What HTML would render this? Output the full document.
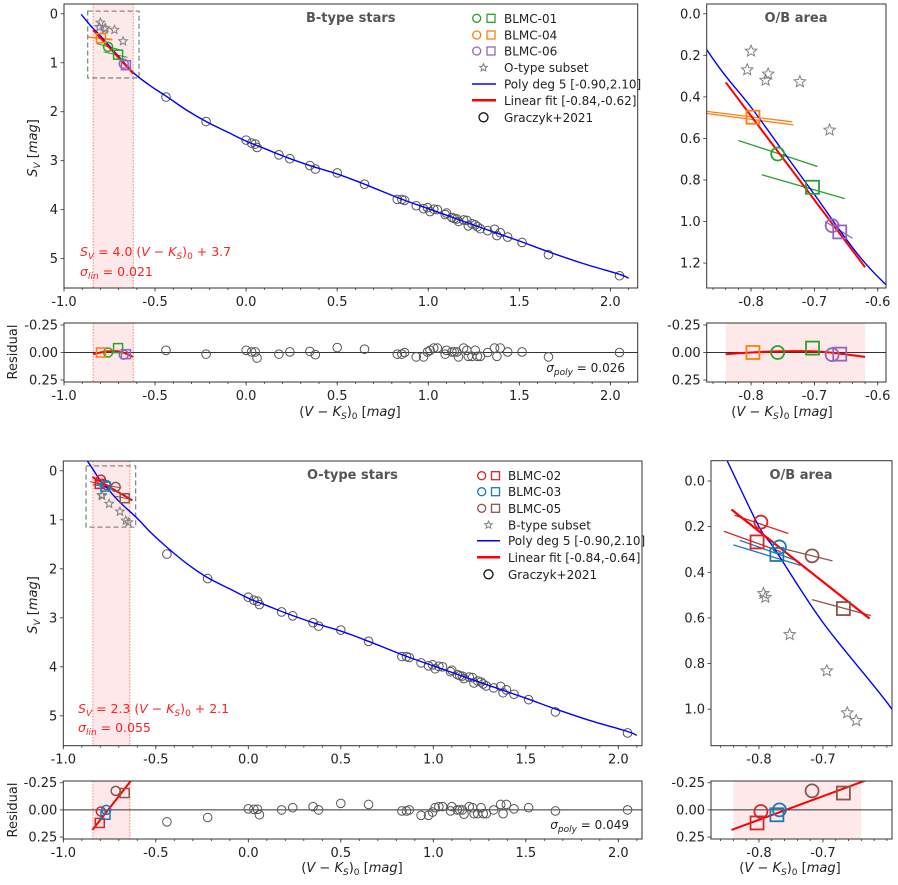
<!DOCTYPE html>
<html><head><meta charset="utf-8">
<style>
html,body{margin:0;padding:0;background:#fff;overflow:hidden;}
svg{display:block;font-family:"DejaVu Sans","Liberation Sans",sans-serif;}
</style></head>
<body>
<svg id="fig" width="898" height="885" viewBox="0 0 898 885" xmlns="http://www.w3.org/2000/svg"></svg>
<script>
// ---------------- DATA ----------------
const gX = [-0.44,-0.22,0.0,0.03,0.05,0.06,0.18,0.24,0.35,0.38,0.50,0.65,0.83,0.855,0.87,0.934,0.974,0.996,1.01,1.03,1.05,1.093,1.10,1.13,1.143,1.157,1.166,1.194,1.212,1.22,1.24,1.258,1.27,1.286,1.326,1.364,1.377,1.395,1.436,1.515,1.66,2.05];
const gS = [1.70,2.20,2.58,2.64,2.66,2.73,2.88,2.96,3.10,3.17,3.25,3.48,3.79,3.79,3.81,3.92,3.98,3.96,4.04,3.99,4.00,4.10,4.07,4.16,4.18,4.19,4.24,4.21,4.22,4.33,4.29,4.31,4.35,4.39,4.43,4.40,4.53,4.47,4.56,4.67,4.92,5.35];
const gResTop = [-0.02,0.015,-0.02,-0.005,-0.005,0.05,0.015,-0.005,-0.01,0.02,-0.045,-0.03,0.015,0.015,0.0,0.04,0.04,-0.005,-0.02,-0.04,-0.04,0.015,-0.02,-0.005,-0.005,-0.005,0.04,-0.04,-0.02,0.035,0.035,-0.02,0.035,0.035,0.0,-0.04,0.035,-0.04,-0.005,-0.005,0.04,0.0];
const gResBot = [0.11,0.07,-0.01,-0.005,-0.005,0.045,0.0,-0.02,-0.03,0.0,-0.06,-0.05,0.01,0.01,0.0,0.05,0.05,0.02,-0.02,-0.03,-0.03,0.01,-0.03,0.0,0.0,0.0,0.04,-0.03,-0.02,0.035,0.035,-0.02,0.035,0.035,0.0,-0.05,0.035,-0.05,-0.01,-0.02,0.01,0.0];
const polyXB = [-0.906,-0.85,-0.8,-0.75,-0.7,-0.62,-0.53,-0.44,-0.33,-0.22,-0.1,0.0,0.1,0.2,0.35,0.5,0.65,0.85,1.0,1.15,1.3,1.5,1.66,1.85,2.05,2.1];
const polyYB = [0.01,0.26,0.45,0.66,0.87,1.2,1.46,1.68,1.96,2.2,2.42,2.6,2.75,2.9,3.1,3.27,3.48,3.78,3.98,4.18,4.38,4.64,4.86,5.1,5.32,5.40];
const polyXO = [-0.87,-0.85,-0.8,-0.775,-0.7,-0.6,-0.53,-0.44,-0.33,-0.22,-0.1,0.0,0.1,0.2,0.35,0.5,0.65,0.85,1.0,1.15,1.3,1.5,1.66,1.85,2.05,2.1];
const polyYO = [-0.2,-0.09,0.2,0.30,0.62,0.97,1.25,1.56,1.90,2.18,2.41,2.6,2.75,2.9,3.1,3.27,3.48,3.78,3.98,4.18,4.38,4.64,4.86,5.1,5.32,5.40];
const linBX = [-0.84,-0.62]; const linBY = [0.33,1.22];
const linOX = [-0.843,-0.627]; const linOY = [0.125,0.603];
const bNames = ["BLMC-01","BLMC-04","BLMC-06"];
const bColors = ["#2ca02c","#ff7f0e","#9467bd"];
const bCircX = [-0.758,null,-0.672]; const bCircY = [0.675,null,1.02];
const bSqX = [-0.703,-0.797,-0.660]; const bSqY = [0.835,0.498,1.05];
const bCircRes = [0.0,null,0.02]; const bSqRes = [-0.04,0.0,0.015];
const bSegX1 = [-0.82,-0.783,-0.87,-0.87,-0.683]; const bSegY1 = [0.61,0.775,0.47,0.48,1.00];
const bSegX2 = [-0.695,-0.652,-0.735,-0.733,-0.640]; const bSegY2 = [0.735,0.89,0.52,0.535,1.08];
const bSegC = [0,0,1,1,2];
const oNames = ["BLMC-02","BLMC-03","BLMC-05"];
const oColors = ["#d62728","#1f77b4","#8c564b"];
const oCircX = [-0.797,-0.768,-0.717]; const oCircY = [0.18,0.289,0.328];
const oSqX = [-0.803,-0.772,-0.668]; const oSqY = [0.267,0.322,0.559];
const oCircRes = [0.015,0.0,-0.175]; const oSqRes = [0.12,0.045,-0.155];
const oSegX1 = [-0.838,-0.855,-0.83,-0.84,-0.772,-0.717]; const oSegY1 = [0.15,0.22,0.26,0.28,0.29,0.52];
const oSegX2 = [-0.754,-0.766,-0.74,-0.735,-0.685,-0.625]; const oSegY2 = [0.23,0.31,0.35,0.37,0.35,0.59];
const oSegC = [0,0,1,1,2,2];
const oStarX = [-0.800,-0.806,-0.773,-0.777,-0.723,-0.676]; const oStarY = [0.18,0.27,0.29,0.32,0.327,0.56];
const bStarX = [-0.793,-0.790,-0.752,-0.694,-0.662,-0.648]; const bStarY = [0.493,0.51,0.673,0.832,1.016,1.05];
const resBX = [-0.84,-0.80,-0.76,-0.70,-0.66,-0.62]; const resBY = [0.015,0.0,-0.01,-0.01,0.01,0.04];
const resOX = [-0.843,-0.62]; const resOY = [0.185,-0.30];
const mainXTicks = [-1.0,-0.5,0.0,0.5,1.0,1.5,2.0];
const mainYTicks = [0,1,2,3,4,5];
const resYTicks = [-0.25,0.0,0.25];
const zoomBYTicks = [0.0,0.2,0.4,0.6,0.8,1.0,1.2];
const zoomOYTicks = [0.0,0.2,0.4,0.6,0.8,1.0];
const zoomBXTicks = [-0.8,-0.7,-0.6];
const zoomOXTicks = [-0.8,-0.7];

// ---------------- HELPERS ----------------
const NS = "http://www.w3.org/2000/svg";
const svg = document.getElementById('fig');
let clipId = 0;
function mk(tag, attrs, parent, name, inter){
  const e = document.createElementNS(NS, tag);
  for (const k in attrs) e.setAttribute(k, attrs[k]);
  
  
  (parent || svg).appendChild(e);
  return e;
}
function scale(d0,d1,r0,r1){ return v => r0 + (v-d0)/(d1-d0)*(r1-r0); }
function fmt(v, dec){ return v.toFixed(dec); }

function panel(o){
  const g = mk('g', {}, svg, o.name, false);
  const sx = scale(o.xd[0], o.xd[1], o.x0, o.x1);
  const sy = scale(o.yd[0], o.yd[1], o.y0, o.y1);
  const cid = 'c' + (clipId++);
  const cp = mk('clipPath', {id: cid}, g, o.name + '-clip', false);
  mk('rect', {x:o.x0, y:o.y0, width:o.x1-o.x0, height:o.y1-o.y0}, cp, 'clip-rect', false);
  const plot = mk('g', {'clip-path':'url(#'+cid+')'}, g, o.name + '-plot-area', false);
  const ax = mk('g', {}, g, o.name + '-x-axis', false);
  const mstep = o.minor;
  for (let v = Math.ceil(o.xd[0]/mstep)*mstep; v <= o.xd[1]+1e-9; v += mstep){
    const px = sx(v);
    mk('line', {x1:px, x2:px, y1:o.y1, y2:o.y1+2, stroke:'#333', 'stroke-width':0.8}, ax, 'x-minor-tick', false);
  }
  o.xt.forEach(v => {
    const px = sx(v);
    mk('line', {x1:px, x2:px, y1:o.y1, y2:o.y1+3.5, stroke:'#333', 'stroke-width':0.8}, ax, 'x-major-tick', false);
    const t = mk('text', {x:px, y:o.y1+18, 'text-anchor':'middle', 'font-size':13, fill:'#222'}, ax, 'x-tick-label', false);
    t.textContent = fmt(v, o.xdec);
  });
  const ay = mk('g', {}, g, o.name + '-y-axis', false);
  o.yt.forEach(v => {
    const py = sy(v);
    mk('line', {x1:o.x0-3.5, x2:o.x0, y1:py, y2:py, stroke:'#333', 'stroke-width':0.8}, ay, 'y-major-tick', false);
    const t = mk('text', {x:o.x0-6, y:py+4.5, 'text-anchor':'end', 'font-size':13, fill:'#222'}, ay, 'y-tick-label', false);
    t.textContent = fmt(v, o.ydec);
  });
  return {g, plot, sx, sy, o};
}
function frame(p){
  const o = p.o;
  mk('rect', {x:o.x0, y:o.y0, width:o.x1-o.x0, height:o.y1-o.y0, fill:'none', stroke:'#333', 'stroke-width':1}, p.g, 'axes-frame', false);
}
function band(p, a, b, dotted){
  mk('rect', {x:p.sx(a), y:p.o.y0, width:p.sx(b)-p.sx(a), height:p.o.y1-p.o.y0, fill:'#fde9e9'}, p.plot, 'fit-range-band', false);
  if (dotted){
    [a,b].forEach(v => {
      mk('line', {x1:p.sx(v), x2:p.sx(v), y1:p.o.y0, y2:p.o.y1, stroke:'#ff6060', 'stroke-width':0.8, 'stroke-dasharray':'1.5,1.5'}, p.plot, 'fit-range-edge', false);
    });
  }
}
function polyline(p, xs, ys, color, w, name){
  const pts = xs.map((x,i)=> p.sx(x).toFixed(2)+','+p.sy(ys[i]).toFixed(2)).join(' ');
  return mk('polyline', {points:pts, fill:'none', stroke:color, 'stroke-width':w, 'stroke-linejoin':'round'}, p.plot, name, false);
}
function smooth(p, xs, ys, color, w, name){
  const P = xs.map((x,i)=>[p.sx(x), p.sy(ys[i])]);
  let d = 'M'+P[0][0]+','+P[0][1];
  for (let i=0;i<P.length-1;i++){
    const p0 = P[Math.max(0,i-1)], p1=P[i], p2=P[i+1], p3=P[Math.min(P.length-1,i+2)];
    const c1 = [p1[0]+(p2[0]-p0[0])/6, p1[1]+(p2[1]-p0[1])/6];
    const c2 = [p2[0]-(p3[0]-p1[0])/6, p2[1]-(p3[1]-p1[1])/6];
    d += ' C'+c1.join(',')+' '+c2.join(',')+' '+p2.join(',');
  }
  return mk('path', {d, fill:'none', stroke:color, 'stroke-width':w}, p.plot, name, false);
}
function circle(p, x, y, r, color, w, name){
  return mk('circle', {cx:p.sx(x), cy:p.sy(y), r, fill:'none', stroke:color, 'stroke-width':w}, p.plot, name, false);
}
function square(p, x, y, s, color, w, name){
  return mk('rect', {x:p.sx(x)-s/2, y:p.sy(y)-s/2, width:s, height:s, fill:'none', stroke:color, 'stroke-width':w}, p.plot, name, false);
}
function starPath(cx, cy, R){
  const r = R*0.45; let d='';
  for (let i=0;i<10;i++){
    const a = -Math.PI/2 + i*Math.PI/5, rr = i%2?r:R;
    d += (i?'L':'M') + (cx+rr*Math.cos(a)).toFixed(2)+','+(cy+rr*Math.sin(a)).toFixed(2);
  }
  return d+'Z';
}
function star(p, x, y, R, name){
  return mk('path', {d:starPath(p.sx(x), p.sy(y), R), fill:'none', stroke:'#808080', 'stroke-width':1}, p.plot, name, false);
}
function zeroLine(p){
  mk('line', {x1:p.o.x0, x2:p.o.x1, y1:p.sy(0), y2:p.sy(0), stroke:'#333', 'stroke-width':1}, p.plot, 'zero-line', false);
}
function text(x, y, str, attrs, name, parent){
  const t = mk('text', Object.assign({x, y, fill:'#222', 'font-size':13}, attrs||{}), parent||svg, name, false);
  t.innerHTML = str;
  return t;
}
function segs(p, X1,Y1,X2,Y2,C,colors,w){
  X1.forEach((x,i)=>{
    mk('line', {x1:p.sx(x), y1:p.sy(Y1[i]), x2:p.sx(X2[i]), y2:p.sy(Y2[i]), stroke:colors[C[i]], 'stroke-width':w}, p.plot, 'target-slope-segment', false);
  });
}
function dashBox(p, x0,x1,y0,y1){
  mk('rect', {x:p.sx(x0), y:p.sy(y0), width:p.sx(x1)-p.sx(x0), height:p.sy(y1)-p.sy(y0), fill:'none', stroke:'#888', 'stroke-width':1.3, 'stroke-dasharray':'5,3'}, p.plot, 'zoom-region-box', false);
}
const XLAB = '(<tspan font-style="italic">V</tspan> − <tspan font-style="italic">K</tspan><tspan font-size="9" dy="3" font-style="italic">S</tspan><tspan dy="-3">)</tspan><tspan font-size="9" dy="3">0</tspan><tspan dy="-3"> [</tspan><tspan font-style="italic">mag</tspan>]';

// ---------------- TOP ROW (B-type) ----------------
const A = panel({name:'b-main-panel', x0:64, x1:637.7, y0:4, y1:288, xd:[-1,2.15], yd:[-0.2,5.6], xt:mainXTicks, yt:mainYTicks, minor:0.1, xdec:1, ydec:0});
band(A, -0.84, -0.62, true);
dashBox(A, -0.87, -0.588, -0.055, 1.31);
gX.forEach((x,i)=> circle(A, x, gS[i], 4.3, '#555', 1, 'graczyk-point'));
oStarX.forEach((x,i)=> star(A, x, oStarY[i], 4.5, 'o-type-subset-star'));
segs(A, bSegX1,bSegY1,bSegX2,bSegY2,bSegC,bColors,1);
smooth(A, polyXB, polyYB, '#0000ff', 1.4, 'poly-fit-curve');
polyline(A, linBX, linBY, '#ff0000', 2, 'linear-fit-line');
bCircX.forEach((x,i)=>{ if(x!==null) circle(A, x, bCircY[i], 4.5, bColors[i], 1.5, 'target-circle-'+bNames[i].toLowerCase()); });
bSqX.forEach((x,i)=> square(A, x, bSqY[i], 9, bColors[i], 1.5, 'target-square-'+bNames[i].toLowerCase()));
frame(A);
text(306, 22, 'B-type stars', {'font-weight':'bold', fill:'#555', 'font-size':13}, 'b-panel-title');
text(80, 256, '<tspan font-style="italic">S</tspan><tspan font-size="9" dy="3" font-style="italic">V</tspan><tspan dy="-3"> = 4.0 (</tspan><tspan font-style="italic">V</tspan> − <tspan font-style="italic">K</tspan><tspan font-size="9" dy="3" font-style="italic">S</tspan><tspan dy="-3">)</tspan><tspan font-size="9" dy="3">0</tspan><tspan dy="-3"> + 3.7</tspan>', {fill:'#ff2020','font-size':12.5}, 'b-linear-equation');
text(80, 276, '<tspan font-style="italic">σ</tspan><tspan font-size="9" dy="3" font-style="italic">lin</tspan><tspan dy="-3"> = 0.021</tspan>', {fill:'#ff2020','font-size':12.5}, 'b-sigma-lin');
text(37, 148, '<tspan font-style="italic">S</tspan><tspan font-size="9" dy="3" font-style="italic">V</tspan><tspan dy="-3"> [</tspan><tspan font-style="italic">mag</tspan>]', {transform:'rotate(-90 37 148)','text-anchor':'middle','font-size':13}, 'b-y-axis-title');

const legB = mk('g', {}, svg, 'b-legend', false);
const legRowsB = [18.3,35,51,67.7,84,100.3,117.3];
bNames.forEach((n,i)=>{
  mk('circle', {cx:476.7, cy:legRowsB[i], r:4, fill:'none', stroke:bColors[i], 'stroke-width':1.3}, legB, 'legend-circle-marker', false);
  mk('rect', {x:487, y:legRowsB[i]-4, width:8, height:8, fill:'none', stroke:bColors[i], 'stroke-width':1.3}, legB, 'legend-square-marker', false);
  text(504, legRowsB[i]+4.5, n, {'font-size':12}, 'legend-entry-'+n.toLowerCase(), legB);
});
mk('path', {d:starPath(483.5, legRowsB[3], 4), fill:'none', stroke:'#808080'}, legB, 'legend-star-marker', false);
text(504, legRowsB[3]+4.5, 'O-type subset', {'font-size':12}, 'legend-entry-o-type-subset', legB);
mk('line', {x1:472, x2:496, y1:legRowsB[4], y2:legRowsB[4], stroke:'#0000ff', 'stroke-width':1.5}, legB, 'legend-poly-line', false);
text(504, legRowsB[4]+4.5, 'Poly deg 5 [-0.90,2.10]', {'font-size':12}, 'legend-entry-poly', legB);
mk('line', {x1:472, x2:496, y1:legRowsB[5], y2:legRowsB[5], stroke:'#ff0000', 'stroke-width':2.5}, legB, 'legend-linear-line', false);
text(504, legRowsB[5]+4.5, 'Linear fit [-0.84,-0.62]', {'font-size':12}, 'legend-entry-linear', legB);
mk('circle', {cx:483.5, cy:legRowsB[6], r:4.5, fill:'none', stroke:'#111', 'stroke-width':1.3}, legB, 'legend-graczyk-marker', false);
text(504, legRowsB[6]+4.5, 'Graczyk+2021', {'font-size':12}, 'legend-entry-graczyk', legB);

const AR = panel({name:'b-residual-panel', x0:64, x1:637.7, y0:323, y1:382, xd:[-1,2.15], yd:[-0.268,0.268], xt:mainXTicks, yt:resYTicks, minor:0.1, xdec:1, ydec:2});
band(AR, -0.84, -0.62, true);
zeroLine(AR);
gX.forEach((x,i)=> circle(AR, x, gResTop[i], 4.3, '#555', 1, 'graczyk-residual'));
smooth(AR, resBX, resBY, '#ff0000', 2, 'linear-residual-curve');
bCircX.forEach((x,i)=>{ if(x!==null) circle(AR, x, bCircRes[i], 4.5, bColors[i], 1.5, 'target-circle-residual'); });
bSqX.forEach((x,i)=> square(AR, x, bSqRes[i], 9, bColors[i], 1.5, 'target-square-residual'));
frame(AR);
text(625, 372, '<tspan font-style="italic">σ</tspan><tspan font-size="9" dy="3" font-style="italic">poly</tspan><tspan dy="-3"> = 0.026</tspan>', {'text-anchor':'end','font-size':12}, 'b-sigma-poly');
text(17, 352, 'Residual', {transform:'rotate(-90 17 352)','text-anchor':'middle','font-size':13}, 'b-residual-y-title');
text(350, 416, XLAB, {'text-anchor':'middle','font-size':13}, 'b-x-axis-title');

const B = panel({name:'b-zoom-panel', x0:706.7, x1:886, y0:4, y1:288, xd:[-0.87,-0.587], yd:[-0.047,1.32], xt:zoomBXTicks, yt:zoomBYTicks, minor:0.02, xdec:1, ydec:1});
oStarX.forEach((x,i)=> star(B, x, oStarY[i], 6, 'o-type-subset-star'));
segs(B, bSegX1,bSegY1,bSegX2,bSegY2,bSegC,bColors,1.3);
polyline(B, linBX, linBY, '#ff0000', 2, 'linear-fit-line');
smooth(B, polyXB, polyYB, '#0000ff', 1.4, 'poly-fit-curve');
bCircX.forEach((x,i)=>{ if(x!==null) circle(B, x, bCircY[i], 6.5, bColors[i], 1.8, 'target-circle-'+bNames[i].toLowerCase()); });
bSqX.forEach((x,i)=> square(B, x, bSqY[i], 13, bColors[i], 1.8, 'target-square-'+bNames[i].toLowerCase()));
frame(B);
text(796, 22, 'O/B area', {'font-weight':'bold', fill:'#555', 'text-anchor':'middle'}, 'b-zoom-title');
const BR = panel({name:'b-zoom-residual-panel', x0:706.7, x1:886, y0:323, y1:382, xd:[-0.87,-0.587], yd:[-0.268,0.268], xt:zoomBXTicks, yt:resYTicks, minor:0.02, xdec:1, ydec:2});
band(BR, -0.84, -0.62, false);
zeroLine(BR);
smooth(BR, resBX, resBY, '#ff0000', 2, 'linear-residual-curve');
bCircX.forEach((x,i)=>{ if(x!==null) circle(BR, x, bCircRes[i], 6.5, bColors[i], 1.8, 'target-circle-residual'); });
bSqX.forEach((x,i)=> square(BR, x, bSqRes[i], 13, bColors[i], 1.8, 'target-square-residual'));
frame(BR);
text(782, 416, XLAB, {'text-anchor':'middle','font-size':13}, 'b-zoom-x-axis-title');

// ---------------- BOTTOM ROW (O-type) ----------------
const C = panel({name:'o-main-panel', x0:63.3, x1:642, y0:461, y1:745.7, xd:[-1,2.128], yd:[-0.2,5.61], xt:mainXTicks, yt:mainYTicks, minor:0.1, xdec:1, ydec:0});
band(C, -0.84, -0.64, true);
dashBox(C, -0.877, -0.609, -0.1, 1.15);
gX.forEach((x,i)=> circle(C, x, gS[i], 4.3, '#555', 1, 'graczyk-point'));
bStarX.forEach((x,i)=> star(C, x, bStarY[i], 4.5, 'b-type-subset-star'));
segs(C, oSegX1,oSegY1,oSegX2,oSegY2,oSegC,oColors,1);
smooth(C, polyXO, polyYO, '#0000ff', 1.4, 'poly-fit-curve');
polyline(C, linOX, linOY, '#ff0000', 2, 'linear-fit-line');
oCircX.forEach((x,i)=> circle(C, x, oCircY[i], 4.5, oColors[i], 1.5, 'target-circle-'+oNames[i].toLowerCase()));
oSqX.forEach((x,i)=> square(C, x, oSqY[i], 9, oColors[i], 1.5, 'target-square-'+oNames[i].toLowerCase()));
frame(C);
text(307, 479, 'O-type stars', {'font-weight':'bold', fill:'#555'}, 'o-panel-title');
text(78, 713, '<tspan font-style="italic">S</tspan><tspan font-size="9" dy="3" font-style="italic">V</tspan><tspan dy="-3"> = 2.3 (</tspan><tspan font-style="italic">V</tspan> − <tspan font-style="italic">K</tspan><tspan font-size="9" dy="3" font-style="italic">S</tspan><tspan dy="-3">)</tspan><tspan font-size="9" dy="3">0</tspan><tspan dy="-3"> + 2.1</tspan>', {fill:'#ff2020','font-size':12.5}, 'o-linear-equation');
text(78, 732, '<tspan font-style="italic">σ</tspan><tspan font-size="9" dy="3" font-style="italic">lin</tspan><tspan dy="-3"> = 0.055</tspan>', {fill:'#ff2020','font-size':12.5}, 'o-sigma-lin');
text(37, 605, '<tspan font-style="italic">S</tspan><tspan font-size="9" dy="3" font-style="italic">V</tspan><tspan dy="-3"> [</tspan><tspan font-style="italic">mag</tspan>]', {transform:'rotate(-90 37 605)','text-anchor':'middle','font-size':13}, 'o-y-axis-title');

const legO = mk('g', {}, svg, 'o-legend', false);
const legRowsO = [475.7,491.7,508.3,525,540.7,557.3,574.3];
oNames.forEach((n,i)=>{
  mk('circle', {cx:481.7, cy:legRowsO[i], r:4, fill:'none', stroke:oColors[i], 'stroke-width':1.3}, legO, 'legend-circle-marker', false);
  mk('rect', {x:491.5, y:legRowsO[i]-4, width:8, height:8, fill:'none', stroke:oColors[i], 'stroke-width':1.3}, legO, 'legend-square-marker', false);
  text(508, legRowsO[i]+4.5, n, {'font-size':12}, 'legend-entry-'+n.toLowerCase(), legO);
});
mk('path', {d:starPath(488.5, legRowsO[3], 4), fill:'none', stroke:'#808080'}, legO, 'legend-star-marker', false);
text(508, legRowsO[3]+4.5, 'B-type subset', {'font-size':12}, 'legend-entry-b-type-subset', legO);
mk('line', {x1:477, x2:500, y1:legRowsO[4], y2:legRowsO[4], stroke:'#0000ff', 'stroke-width':1.5}, legO, 'legend-poly-line', false);
text(508, legRowsO[4]+4.5, 'Poly deg 5 [-0.90,2.10]', {'font-size':12}, 'legend-entry-poly', legO);
mk('line', {x1:477, x2:500, y1:legRowsO[5], y2:legRowsO[5], stroke:'#ff0000', 'stroke-width':2.5}, legO, 'legend-linear-line', false);
text(508, legRowsO[5]+4.5, 'Linear fit [-0.84,-0.64]', {'font-size':12}, 'legend-entry-linear', legO);
mk('circle', {cx:488.5, cy:legRowsO[6], r:4.5, fill:'none', stroke:'#111', 'stroke-width':1.3}, legO, 'legend-graczyk-marker', false);
text(508, legRowsO[6]+4.5, 'Graczyk+2021', {'font-size':12}, 'legend-entry-graczyk', legO);

const CR = panel({name:'o-residual-panel', x0:63.3, x1:642, y0:781, y1:839, xd:[-1,2.128], yd:[-0.266,0.268], xt:mainXTicks, yt:resYTicks, minor:0.1, xdec:1, ydec:2});
band(CR, -0.84, -0.64, true);
zeroLine(CR);
gX.forEach((x,i)=> circle(CR, x, gResBot[i], 4.3, '#555', 1, 'graczyk-residual'));
polyline(CR, resOX, resOY, '#ff0000', 2, 'linear-residual-line');
oCircX.forEach((x,i)=> circle(CR, x, oCircRes[i], 4.5, oColors[i], 1.5, 'target-circle-residual'));
oSqX.forEach((x,i)=> square(CR, x, oSqRes[i], 9, oColors[i], 1.5, 'target-square-residual'));
frame(CR);
text(629, 829, '<tspan font-style="italic">σ</tspan><tspan font-size="9" dy="3" font-style="italic">poly</tspan><tspan dy="-3"> = 0.049</tspan>', {'text-anchor':'end','font-size':12}, 'o-sigma-poly');
text(17, 810, 'Residual', {transform:'rotate(-90 17 810)','text-anchor':'middle','font-size':13}, 'o-residual-y-title');
text(352, 872, XLAB, {'text-anchor':'middle','font-size':13}, 'o-x-axis-title');

const D = panel({name:'o-zoom-panel', x0:711, x1:892, y0:460.7, y1:745.7, xd:[-0.875,-0.592], yd:[-0.089,1.16], xt:zoomOXTicks, yt:zoomOYTicks, minor:0.02, xdec:1, ydec:1});
bStarX.forEach((x,i)=> star(D, x, bStarY[i], 6, 'b-type-subset-star'));
segs(D, oSegX1,oSegY1,oSegX2,oSegY2,oSegC,oColors,1.3);
smooth(D, polyXO, polyYO, '#0000ff', 1.4, 'poly-fit-curve');
polyline(D, linOX, linOY, '#ff0000', 2.2, 'linear-fit-line');
oCircX.forEach((x,i)=> circle(D, x, oCircY[i], 6.5, oColors[i], 1.8, 'target-circle-'+oNames[i].toLowerCase()));
oSqX.forEach((x,i)=> square(D, x, oSqY[i], 13, oColors[i], 1.8, 'target-square-'+oNames[i].toLowerCase()));
frame(D);
text(801, 479, 'O/B area', {'font-weight':'bold', fill:'#555', 'text-anchor':'middle'}, 'o-zoom-title');
const DR = panel({name:'o-zoom-residual-panel', x0:711, x1:892, y0:781, y1:839, xd:[-0.875,-0.592], yd:[-0.266,0.268], xt:zoomOXTicks, yt:resYTicks, minor:0.02, xdec:1, ydec:2});
band(DR, -0.84, -0.64, false);
zeroLine(DR);
polyline(DR, resOX, resOY, '#ff0000', 2, 'linear-residual-line');
oCircX.forEach((x,i)=> circle(DR, x, oCircRes[i], 6.5, oColors[i], 1.8, 'target-circle-residual'));
oSqX.forEach((x,i)=> square(DR, x, oSqRes[i], 13, oColors[i], 1.8, 'target-square-residual'));
frame(DR);
text(790, 872, XLAB, {'text-anchor':'middle','font-size':13}, 'o-zoom-x-axis-title');
</script>
</body></html>
